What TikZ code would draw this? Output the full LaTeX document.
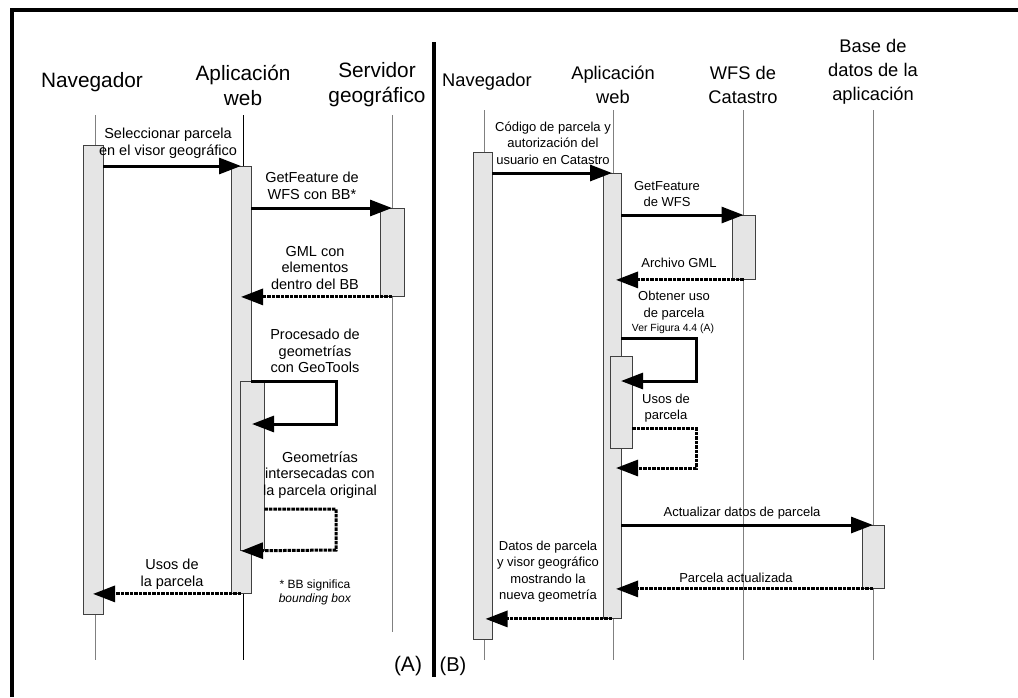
\documentclass[tikz,border=0pt]{standalone}
\usepackage{fontspec}
\setmainfont{Liberation Sans}
\usetikzlibrary{arrows.meta}

\begin{document}
\begin{tikzpicture}[x=1pt,y=-1pt,
  lifeline/.style={draw=black!50, line width=1pt},
  actbox/.style={draw=black!75, fill=black!10, line width=0.9pt, inner sep=0pt, anchor=north},
  msg/.style={line width=3pt, -{Triangle[length=22pt,width=16pt]}},
  ret/.style={msg, dash pattern=on 3.4pt off 1.1pt},
  hdA/.style={align=center, font=\fontsize{20.8}{25}\selectfont},
  hdB/.style={align=center, font=\fontsize{18.3}{24}\selectfont},
  lblA/.style={align=center, font=\fontsize{14.5}{16.5}\selectfont, inner sep=0pt},
  lblB/.style={align=center, font=\fontsize{13}{16.5}\selectfont, inner sep=0pt},
  frame/.style={line width=4pt}
]
\useasboundingbox (0,0) rectangle (1018,697);

% outer frame and panel divider
\draw[frame] (12,697) -- (12,10) -- (1018,10);
\draw[frame] (434,42) -- (434,677);

% ---------------- panel (A) ----------------
\node[hdA] (hNavA) at (92,82) {Navegador};
\node[hdA] (hAppA) at (243,85) {Aplicación\\web};
\node[hdA] (hSrvA) at (377,85) {Servidor\\geográfico};

\draw[lifeline] (95,115) -- (95,660);
\draw[lifeline, draw=black] (243,115) -- (243,660);
\draw[lifeline] (392,115) -- (392,632);

\node[actbox, minimum width=20pt, minimum height=469pt] (nA) at (93,145) {};
\node[actbox, minimum width=20pt, minimum height=427pt] (aA) at (241,166) {};
\node[actbox, minimum width=24pt, minimum height=88pt] (sA) at (392,208) {};
\node[actbox, minimum width=24pt, minimum height=169pt] (aA2) at (252,381) {};

\draw[msg] (nA.east |- aA.north) -- (aA.north);
\node[lblA] (l1) at (168,143) {Seleccionar parcela\\en el visor geográfico};

\draw[msg] (aA.east |- sA.north) -- (sA.north);
\node[lblA] (l2) at (312,186) {GetFeature de\\WFS con BB*};

\draw[ret] (sA.south) -- (aA.center |- sA.south);
\node[lblA] (l3) at (315,268) {GML con\\elementos\\dentro del BB};

\draw[msg] (aA.east |- aA2.north) -- (336,381) -- (336,424) -- (aA2.center |- 0,424);
\node[lblA] (l4) at (315,351) {Procesado de\\geometrías\\con GeoTools};

\draw[ret] (aA2.east |- 0,509) -- (336,509) -- (336,550) -- (aA.center |- aA2.south);
\node[lblA] (l5) at (320,475) {Geometrías\\intersecadas con\\la parcela original};

\draw[ret] (aA.south) -- (nA.center |- aA.south);
\node[lblA] (l6) at (172,574) {Usos de\\la parcela};

\node[align=center, inner sep=0pt, font=\fontsize{12}{14}\selectfont] (note) at (315,592) {* BB significa\\\textit{bounding box}};
\node[font=\fontsize{21}{24}\selectfont] (tagA) at (408,666) {(A)};

% ---------------- panel (B) ----------------
\node[hdB] (hNavB) at (487,82) {Navegador};
\node[hdB] (hAppB) at (613,85) {Aplicación\\web};
\node[hdB] (hWfsB) at (743,85) {WFS de\\Catastro};
\node[hdB] (hBdB) at (873,72) {Base de\\datos de la\\aplicación};

\draw[lifeline] (484,110) -- (484,660);
\draw[lifeline] (613,110) -- (613,660);
\draw[lifeline] (743,110) -- (743,660);
\draw[lifeline] (873,110) -- (873,660);

\node[actbox, minimum width=19pt, minimum height=487pt] (nB) at (482.5,152) {};
\node[actbox, minimum width=18pt, minimum height=445pt] (aB) at (612,173) {};
\node[actbox, minimum width=23pt, minimum height=64pt] (wB) at (743.5,215) {};
\node[actbox, minimum width=22pt, minimum height=92pt] (aB2) at (621,356) {};
\node[actbox, minimum width=22pt, minimum height=63pt] (dB) at (873,525) {};

\draw[msg] (nB.east |- aB.north) -- (aB.north);
\node[lblB] (m1) at (553,143) {Código de parcela y\\autorización del\\usuario en Catastro};

\draw[msg] (aB.east |- wB.north) -- (wB.north);
\node[lblB] (m2) at (667,194) {GetFeature\\de WFS};

\draw[ret] (wB.south) -- ([xshift=4pt]aB.center |- wB.south);
\node[lblB] (m3) at (679,263) {Archivo GML};

\draw[msg] (aB.east |- 0,338) -- (696,338) -- (696,381) -- (aB2.center |- 0,381);
\node[lblB] (m4) at (674,305.5) {Obtener uso\\de parcela};
\node[inner sep=0pt, font=\fontsize{10.4}{12}\selectfont] (m4b) at (673,329) {Ver Figura 4.4 (A)};

\draw[ret] (aB2.east |- 0,428) -- (696,428) -- (696,468) -- ([xshift=4pt]aB.center |- 0,468);
\node[lblB] (m5) at (666,408) {Usos de\\parcela};

\draw[msg] (aB.east |- dB.north) -- (dB.north);
\node[lblB] (m6) at (742,513) {Actualizar datos de parcela};

\draw[ret] (dB.south) -- ([xshift=4pt]aB.center |- dB.south);
\node[lblB] (m7) at (736,578) {Parcela actualizada};

\draw[ret] (aB.south) -- ([xshift=3pt]nB.center |- aB.south);
\node[lblB] (m8) at (548,571.5) {Datos de parcela\\y visor geográfico\\mostrando la\\nueva geometría};

\node[font=\fontsize{20}{24}\selectfont] (tagB) at (453,666) {(B)};
\end{tikzpicture}
\end{document}
